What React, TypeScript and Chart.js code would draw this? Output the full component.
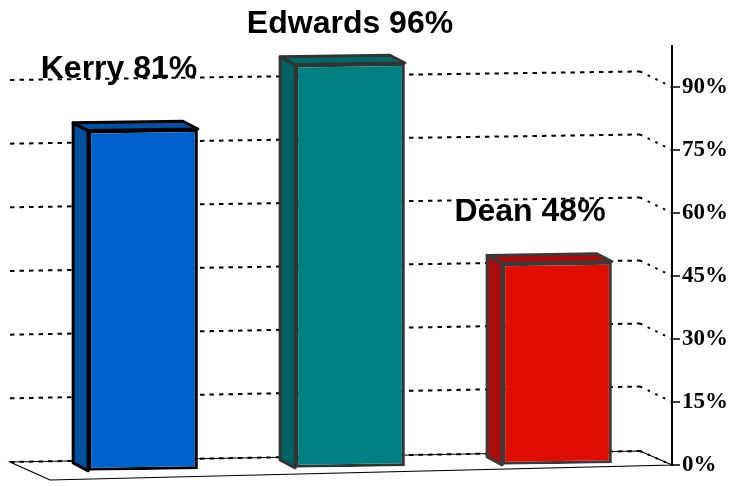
import { useEffect, useRef } from "react";
import { Chart, registerables } from "chart.js";

Chart.register(...registerables);

// Candidates and their support
const candidates = ["Kerry", "Edwards", "Dean"];
const support = [81, 96, 48];
const tickValues = [0, 15, 30, 45, 60, 75, 90];

// Bar face colours
const frontColors = ["#0062CC", "#008080", "#E00C00"];
const sideColors = ["#00509E", "#006262", "#A80C0C"];
const topColors = ["#0052A6", "#006A6A", "#B00808"];
const edgeColors = ["#000000", "#333333", "#3A3A3A"];

// Value label nudges relative to the bar's front-top centre
const labelNudge: [number, number][] = [
  [-24, -52],
  [0, -31],
  [-27, -41],
];

// Pseudo-3D geometry
const SHEAR = -0.0145;
const PIVOT_X = 488;
const DEPTH_X = -15;
const DEPTH_Y = -8;
const AXIS_X = 672;
const BACK_LEFT = 10;
const BACK_RIGHT = 640;
const FLOOR_FRONT_LEFT = 50;

const perspective = {
  id: "perspective",
  beforeDatasetsDraw(chart: any) {
    const ctx: CanvasRenderingContext2D = chart.ctx;
    const ys = chart.scales.y;
    const p = (v: number) => ys.getPixelForValue(v);
    const back = (v: number, x: number) => {
      const l = -3 - (4 * v) / 90;
      const r = v === 0 ? -14 : -15.5;
      return p(v) + l + ((x - BACK_LEFT) / (BACK_RIGHT - BACK_LEFT)) * (r - l);
    };

    ctx.save();
    // floor
    ctx.beginPath();
    ctx.moveTo(BACK_LEFT, back(0, BACK_LEFT));
    ctx.lineTo(BACK_RIGHT, back(0, BACK_RIGHT));
    ctx.lineTo(AXIS_X, p(0));
    ctx.lineTo(FLOOR_FRONT_LEFT, p(0) + 15);
    ctx.closePath();
    ctx.fillStyle = "#ffffff";
    ctx.fill();
    ctx.strokeStyle = "#000";
    ctx.lineWidth = 1.2;
    ctx.setLineDash([]);
    ctx.stroke();

    // back-wall grid lines bending into the axis
    ctx.lineWidth = 2;
    ctx.strokeStyle = "#000";
    for (const v of tickValues) {
      ctx.setLineDash([4.5, 5]);
      ctx.beginPath();
      ctx.moveTo(BACK_LEFT, back(v, BACK_LEFT));
      ctx.lineTo(BACK_RIGHT, back(v, BACK_RIGHT));
      ctx.stroke();
      ctx.setLineDash([2.5, 6]);
      ctx.beginPath();
      ctx.moveTo(BACK_RIGHT, back(v, BACK_RIGHT));
      ctx.lineTo(AXIS_X, p(v));
      ctx.stroke();
    }

    // value axis and tick marks
    ctx.setLineDash([]);
    ctx.lineWidth = 2;
    ctx.beginPath();
    ctx.moveTo(AXIS_X, chart.chartArea.top);
    ctx.lineTo(AXIS_X, p(0) + 1);
    ctx.stroke();
    ctx.lineWidth = 1.5;
    for (const v of tickValues) {
      ctx.beginPath();
      ctx.moveTo(AXIS_X, p(v));
      ctx.lineTo(AXIS_X + 8, p(v));
      ctx.stroke();
    }
    ctx.restore();

    // side and top faces, sheared like the fronts
    ctx.save();
    ctx.transform(1, SHEAR, 0, 1, 0, -SHEAR * PIVOT_X);
    const meta = chart.getDatasetMeta(0);
    meta.data.forEach((el: any, i: number) => {
      const { x, y, base, width } = el.getProps(["x", "y", "base", "width"], true);
      const left = x - width / 2;
      const right = x + width / 2;
      ctx.lineJoin = "round";
      ctx.lineWidth = 3;
      ctx.strokeStyle = edgeColors[i];

      ctx.beginPath();
      ctx.moveTo(left, y);
      ctx.lineTo(left + DEPTH_X, y + DEPTH_Y);
      ctx.lineTo(left + DEPTH_X, base + DEPTH_Y);
      ctx.lineTo(left, base);
      ctx.closePath();
      ctx.fillStyle = sideColors[i];
      ctx.fill();
      ctx.stroke();

      ctx.beginPath();
      ctx.moveTo(left, y);
      ctx.lineTo(left + DEPTH_X, y + DEPTH_Y);
      ctx.lineTo(right + DEPTH_X, y + DEPTH_Y);
      ctx.lineTo(right, y);
      ctx.closePath();
      ctx.fillStyle = topColors[i];
      ctx.fill();
      ctx.stroke();
    });
    // transform stays active while Chart.js draws the front faces
  },
  afterDatasetsDraw(chart: any) {
    const ctx: CanvasRenderingContext2D = chart.ctx;
    ctx.restore();

    ctx.save();
    ctx.font = "bold 32px 'Liberation Sans', Arial, sans-serif";
    ctx.textAlign = "center";
    ctx.textBaseline = "alphabetic";
    ctx.fillStyle = "#000";
    const meta = chart.getDatasetMeta(0);
    meta.data.forEach((el: any, i: number) => {
      const { x, y } = el.getProps(["x", "y"], true);
      const top = y + SHEAR * (x - PIVOT_X);
      ctx.fillText(
        `${candidates[i]} ${support[i]}%`,
        x + labelNudge[i][0],
        top + labelNudge[i][1]
      );
    });
    ctx.restore();
  },
};

export default function App() {
  const ref = useRef<HTMLCanvasElement>(null);

  useEffect(() => {
    if (!ref.current) return;
    const chart = new Chart(ref.current, {
      type: "bar",
      data: {
        labels: candidates,
        datasets: [
          {
            data: support,
            backgroundColor: frontColors,
            borderColor: edgeColors,
            borderWidth: 3,
            borderSkipped: false,
            categoryPercentage: 1,
            barPercentage: 0.53,
            clip: false as any,
          },
        ],
      },
      options: {
        responsive: false,
        animation: false,
        layout: { padding: { top: 45, bottom: 21, left: 39.5, right: 0 } },
        plugins: {
          legend: { display: false },
          tooltip: { enabled: false },
          title: { display: false },
        },
        scales: {
          x: { display: false },
          y: {
            position: "right",
            min: 0,
            max: 100,
            grid: { display: false, drawTicks: false },
            border: { display: false },
            afterBuildTicks: (scale: any) => {
              scale.ticks = scale.ticks.filter((t: any) => tickValues.includes(t.value));
            },
            afterFit: (scale: any) => {
              scale.width = 74.5;
              scale.paddingTop = 0;
              scale.paddingBottom = 0;
            },
            ticks: {
              stepSize: 15,
              padding: 21.5,
              color: "#000",
              font: { family: "'Liberation Serif', 'Times New Roman', serif", weight: "bold", size: 23 },
              callback: (v: any) => `${v}%`,
            },
          },
        },
      },
      plugins: [perspective],
    });
    return () => chart.destroy();
  }, []);

  return (
    <div style={{ position: "absolute", left: 0, top: 0, width: 735, height: 486, background: "#fff" }}>
      <canvas ref={ref} width={735} height={486} style={{ display: "block" }} />
    </div>
  );
}
